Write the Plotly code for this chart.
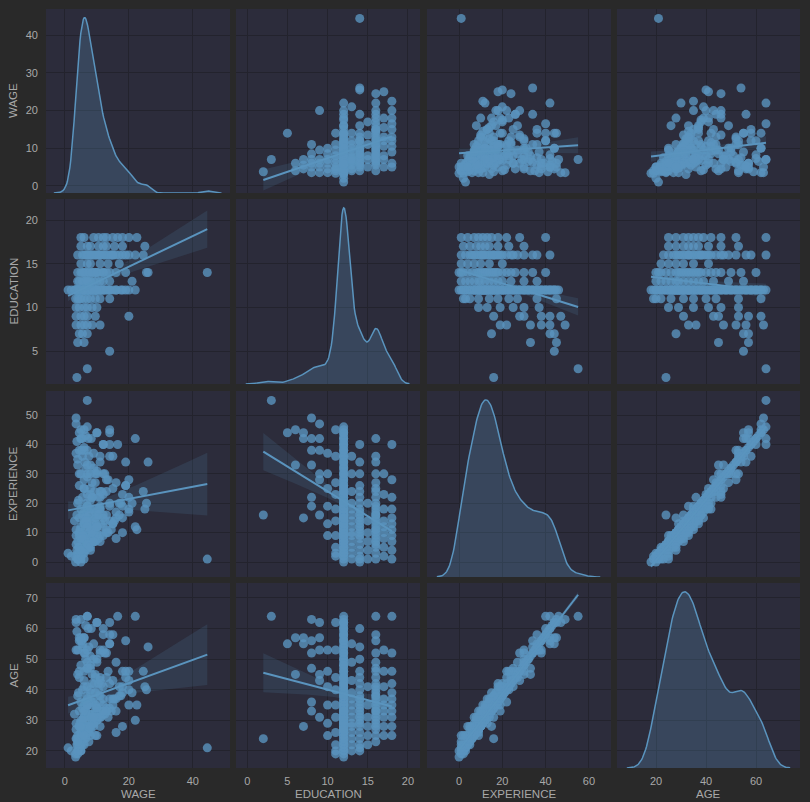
import numpy as np
import plotly.graph_objects as go

VARS = ["WAGE", "EDUCATION", "EXPERIENCE", "AGE"]

# ---- data (grouped by education level) ----
EDUCATION = (
    [2] + [3] + [5] + [6] * 2 + [7] * 3 + [8] * 6 + [9] * 6 + [10] * 6 + [11] * 10
    + [12] * 100 + [13] * 14 + [14] * 23 + [15] * 6 + [16] * 28 + [17] * 9 + [18] * 11
)
WAGE = [
    3.75,
    7.0,
    14.0,
    4.0, 6.0,
    4.5, 5.5, 7.0,
    3.5, 5.0, 6.0, 7.0, 8.5, 11.0,
    3.5, 5.0, 7.0, 9.5, 20.0, 6.0,
    3.5, 4.5, 6.0, 7.0, 8.5, 10.0,
    3.35, 4.0, 4.5, 5.0, 6.0, 7.0, 8.0, 9.5, 11.0, 14.0,
    # education 12
    3.35, 4.0, 2.0, 5.0, 1.0, 4.5, 3.75, 6.0, 4.25, 7.5, 3.5, 5.5,
    4.0, 6.5, 9.5, 5.0, 7.0, 16.0, 3.5, 6.0, 8.0, 4.5, 5.25, 7.5, 18.0,
    6.25, 9.0, 4.75, 5.0, 8.5, 10.0, 22.0, 6.0, 7.0, 11.25, 3.0, 8.0, 12.5,
    6.5, 9.5, 4.5, 5.5, 10.0, 13.0, 7.5, 20.0, 6.0, 8.75, 5.0, 11.0,
    7.0, 14.0, 6.75, 17.5, 8.0, 4.25, 10.5, 5.5, 7.0, 12.0, 9.25, 6.0, 15.0,
    4.5, 8.5, 13.5, 7.0, 5.0, 10.0, 6.5, 8.0, 11.0, 4.0, 7.5, 9.0, 5.25, 6.0,
    12.0, 3.75, 8.25, 6.5, 10.0, 5.0, 7.0,
    3.5, 9.75, 16.0, 4.0, 11.5, 6.0, 9.0, 5.5, 14.0, 7.25, 4.5, 10.0, 8.0,
    6.25, 19.0, 5.75,
    # education 13
    4.0, 5.5, 6.0, 7.5, 4.5, 9.0, 10.0, 6.5, 12.0, 8.0, 21.0, 11.0, 7.0, 14.0,
    # education 14
    5.0, 4.0, 6.5, 7.0, 9.0, 5.5, 10.0, 8.0, 12.0, 6.0, 14.0, 9.5, 7.5, 16.0,
    11.0, 25.5, 8.5, 13.0, 19.0, 10.0, 26.0, 12.0, 44.5,
    # education 15
    5.0, 8.0, 11.0, 13.5, 7.0, 17.0,
    # education 16
    4.0, 6.0, 7.5, 9.0, 5.5, 11.0, 8.5, 13.0, 10.0, 15.0, 6.5, 12.0, 17.0, 9.5,
    20.0, 14.0, 11.0, 24.5, 16.0, 12.5, 19.0, 22.0,
    7.0, 14.5, 10.5, 18.0, 8.0, 15.0,
    # education 17
    5.0, 8.0, 10.5, 13.0, 7.0, 15.5, 25.0, 18.0, 12.0,
    # education 18
    6.0, 5.0, 9.0, 12.0, 22.5, 15.0, 18.0, 10.5, 20.0, 13.0, 16.5,
]
EXPERIENCE = [
    16,
    55,
    44,
    33, 45,
    44, 42, 15,
    49, 42, 38, 33, 22, 19,
    47, 42, 38, 30, 28, 16,
    37, 30, 25, 19, 13, 9,
    2, 3, 5, 9, 14, 18, 23, 27, 36, 45,
    # education 12
    0, 1, 2, 2, 3, 3, 4, 4, 5, 5, 6, 6,
    7, 7, 7, 8, 8, 8, 9, 9, 9, 10, 10, 10, 10,
    11, 11, 11, 12, 12, 12, 12, 13, 13, 13, 14, 14, 14,
    15, 15, 15, 16, 16, 16, 17, 17, 17, 18, 18, 18,
    19, 19, 20, 20, 21, 21, 22, 22, 23, 23, 24, 25, 25,
    26, 27, 28, 29, 30, 31, 32, 33, 34, 35, 36, 37, 38, 39,
    40, 41, 42, 43, 44, 45, 46,
    11, 13, 15, 20, 24, 28, 32, 36, 40, 42, 38, 44, 30,
    34, 26, 9,
    # education 13
    1, 3, 5, 7, 9, 10, 12, 14, 16, 18, 20, 24, 30, 36,
    # education 14
    0, 2, 4, 6, 8, 9, 10, 11, 12, 13, 14, 15, 16, 17,
    18, 20, 22, 24, 26, 30, 34, 40, 1,
    # education 15
    1, 4, 7, 10, 14, 20,
    # education 16
    1, 3, 5, 7, 8, 9, 10, 11, 12, 13, 14, 15, 16, 17,
    18, 20, 22, 24, 27, 30, 34, 42,
    6, 11, 16, 19, 25, 36,
    # education 17
    2, 5, 8, 10, 12, 14, 18, 23, 30,
    # education 18
    1, 4, 7, 9, 11, 13, 15, 18, 22, 28, 40,
]
AGE = [
    24,
    64,
    55,
    45, 57,
    57, 55, 28,
    63, 56, 52, 47, 36, 33,
    62, 57, 53, 45, 43, 31,
    53, 46, 41, 35, 29, 25,
    19, 20, 22, 26, 31, 35, 40, 44, 53, 62,
    # education 12
    18, 19, 20, 20, 21, 21, 22, 22, 23, 23, 24, 24,
    25, 25, 25, 26, 26, 26, 27, 27, 27, 28, 28, 28, 28,
    29, 29, 29, 30, 30, 30, 30, 31, 31, 31, 32, 32, 32,
    33, 33, 33, 34, 34, 34, 35, 35, 35, 36, 36, 36,
    37, 37, 38, 38, 39, 39, 40, 40, 41, 41, 42, 43, 43,
    44, 45, 46, 47, 48, 49, 50, 51, 52, 53, 54, 55, 56, 57,
    58, 59, 60, 61, 62, 63, 64,
    29, 31, 33, 38, 42, 46, 50, 54, 58, 60, 56, 62, 48,
    52, 44, 27,
    # education 13
    20, 22, 24, 26, 28, 29, 31, 33, 35, 37, 39, 43, 49, 55,
    # education 14
    20, 22, 24, 26, 28, 29, 30, 31, 32, 33, 34, 35, 36, 37,
    38, 40, 42, 44, 46, 50, 54, 60, 21,
    # education 15
    22, 25, 28, 31, 35, 41,
    # education 16
    23, 25, 27, 29, 30, 31, 32, 33, 34, 35, 36, 37, 38, 39,
    40, 42, 44, 46, 49, 52, 56, 64,
    28, 33, 38, 41, 47, 58,
    # education 17
    25, 28, 31, 33, 35, 37, 41, 46, 53,
    # education 18
    25, 28, 31, 33, 35, 37, 39, 42, 46, 52, 64,
]

DATA = {"WAGE": np.array(WAGE, float), "EDUCATION": np.array(EDUCATION, float),
        "EXPERIENCE": np.array(EXPERIENCE, float), "AGE": np.array(AGE, float)}

X_TICKS = {"WAGE": [0, 20, 40], "EDUCATION": [0, 5, 10, 15, 20],
           "EXPERIENCE": [0, 20, 40, 60], "AGE": [20, 40, 60]}
Y_TICKS = {"WAGE": [0, 10, 20, 30, 40], "EDUCATION": [5, 10, 15, 20],
           "EXPERIENCE": [0, 10, 20, 30, 40, 50], "AGE": [20, 30, 40, 50, 60, 70]}

# ---- styling / layout ----
W, H = 810, 802
COL_PX = [(46, 230), (236, 420), (427, 611), (617, 800)]
ROW_PX = [(9, 193), (199, 384), (391, 577), (583, 768)]
X_RANGE = {"WAGE": [-5.9, 51.6], "EDUCATION": [-1.4, 21.5],
           "EXPERIENCE": [-14.8, 70.2], "AGE": [4.4, 77.6]}
Y_RANGE = {"WAGE": [-1.9, 47.0], "EDUCATION": [1.26, 22.4],
           "EXPERIENCE": [-5.1, 58.2], "AGE": [14.4, 74.9]}

PAPER = "#292929"
PLOT_BG = "#2c2c3b"
GRID = "#23232d"
BLUE = "rgb(90,148,190)"
BLUE_A = "rgba(90,148,190,0.8)"
FILL = "rgba(90,148,190,0.25)"
BAND = "rgba(90,148,190,0.15)"
TXT = "#a8a8a8"
FONT = "Liberation Sans, Arial, sans-serif"
BW_ADJUST = 0.8
CI_Z = 1.96


def aid(k):
    return "" if k == 1 else str(k)


def kde(v, adjust):
    n = len(v)
    bw = v.std(ddof=1) * n ** (-0.2) * adjust
    grid = np.linspace(v.min() - 3 * bw, v.max() + 3 * bw, 200)
    d = (grid[:, None] - v[None, :]) / bw
    dens = np.exp(-0.5 * d * d).sum(1) / (n * bw * np.sqrt(2 * np.pi))
    return grid, dens


def regfit(x, y):
    n = len(x)
    X = np.column_stack([np.ones(n), x])
    beta = np.linalg.lstsq(X, y, rcond=None)[0]
    resid = y - X @ beta
    s2 = resid @ resid / (n - 2)
    XtXi = np.linalg.inv(X.T @ X)
    g = np.linspace(x.min(), x.max(), 100)
    G = np.column_stack([np.ones_like(g), g])
    yh = G @ beta
    se = np.sqrt(np.einsum("ij,jk,ik->i", G, XtXi, G) * s2)
    return g, yh, yh - CI_Z * se, yh + CI_Z * se


fig = go.Figure()
layout = {}
annotations = []
for r in range(4):
    for c in range(4):
        k = r * 4 + c + 1
        vx, vy = VARS[c], VARS[r]
        xa, ya = "x" + aid(k), "y" + aid(k)
        layout["xaxis" + aid(k)] = dict(
            domain=[COL_PX[c][0] / W, COL_PX[c][1] / W], anchor=ya,
            range=X_RANGE[vx], tickvals=X_TICKS[vx], showticklabels=(r == 3),
            showgrid=True, gridcolor=GRID, gridwidth=1, zeroline=False,
            showline=False, ticks="", ticklabelstandoff=5,
            tickfont=dict(color=TXT, size=11, family=FONT))
        layout["yaxis" + aid(k)] = dict(
            domain=[1 - ROW_PX[r][1] / H, 1 - ROW_PX[r][0] / H], anchor=xa,
            range=Y_RANGE[vy], tickvals=Y_TICKS[vy], showticklabels=(c == 0),
            showgrid=True, gridcolor=GRID, gridwidth=1, zeroline=False,
            showline=False, ticks="", ticklabelstandoff=7,
            tickfont=dict(color=TXT, size=11, family=FONT))
        if r == c:
            # density drawn on its own (hidden) scale: 0 .. 1.05*max mapped to the panel height
            gx, dens = kde(DATA[vx], BW_ADJUST)
            y0, y1 = Y_RANGE[vy]
            ys = y0 + dens / (dens.max() * 1.05) * (y1 - y0)
            fig.add_trace(go.Scatter(
                x=np.concatenate([gx, [gx[-1], gx[0]]]),
                y=np.concatenate([ys, [y0, y0]]),
                xaxis=xa, yaxis=ya, mode="lines", line=dict(width=0),
                fill="toself", fillcolor=FILL, hoverinfo="skip", showlegend=False))
            fig.add_trace(go.Scatter(
                x=gx, y=ys, xaxis=xa, yaxis=ya, mode="lines",
                line=dict(color=BLUE, width=1.5), hoverinfo="skip", showlegend=False))
        else:
            x, y = DATA[vx], DATA[vy]
            fig.add_trace(go.Scatter(
                x=x, y=y, xaxis=xa, yaxis=ya, mode="markers",
                marker=dict(size=9, color=BLUE_A, line=dict(width=0)),
                showlegend=False))
            g, yh, lo, hi = regfit(x, y)
            fig.add_trace(go.Scatter(
                x=np.concatenate([g, g[::-1]]), y=np.concatenate([hi, lo[::-1]]),
                xaxis=xa, yaxis=ya, mode="lines", line=dict(width=0),
                fill="toself", fillcolor=BAND, hoverinfo="skip", showlegend=False))
            fig.add_trace(go.Scatter(
                x=g, y=yh, xaxis=xa, yaxis=ya, mode="lines",
                line=dict(color=BLUE, width=2), hoverinfo="skip", showlegend=False))

for i, v in enumerate(VARS):
    annotations.append(dict(
        text=v, xref="paper", yref="paper", x=13 / W,
        y=1 - (ROW_PX[i][0] + ROW_PX[i][1]) / 2 / H, textangle=-90,
        showarrow=False, xanchor="center", yanchor="middle",
        font=dict(color=TXT, size=11.5, family=FONT)))
    annotations.append(dict(
        text=v, xref="paper", yref="paper", y=1 - 794 / H,
        x=(COL_PX[i][0] + COL_PX[i][1]) / 2 / W,
        showarrow=False, xanchor="center", yanchor="middle",
        font=dict(color=TXT, size=11.5, family=FONT)))

fig.update_layout(
    width=W, height=H, margin=dict(l=0, r=0, t=0, b=0),
    paper_bgcolor=PAPER, plot_bgcolor=PLOT_BG, annotations=annotations,
    **layout)
fig.write_html("out.html")
